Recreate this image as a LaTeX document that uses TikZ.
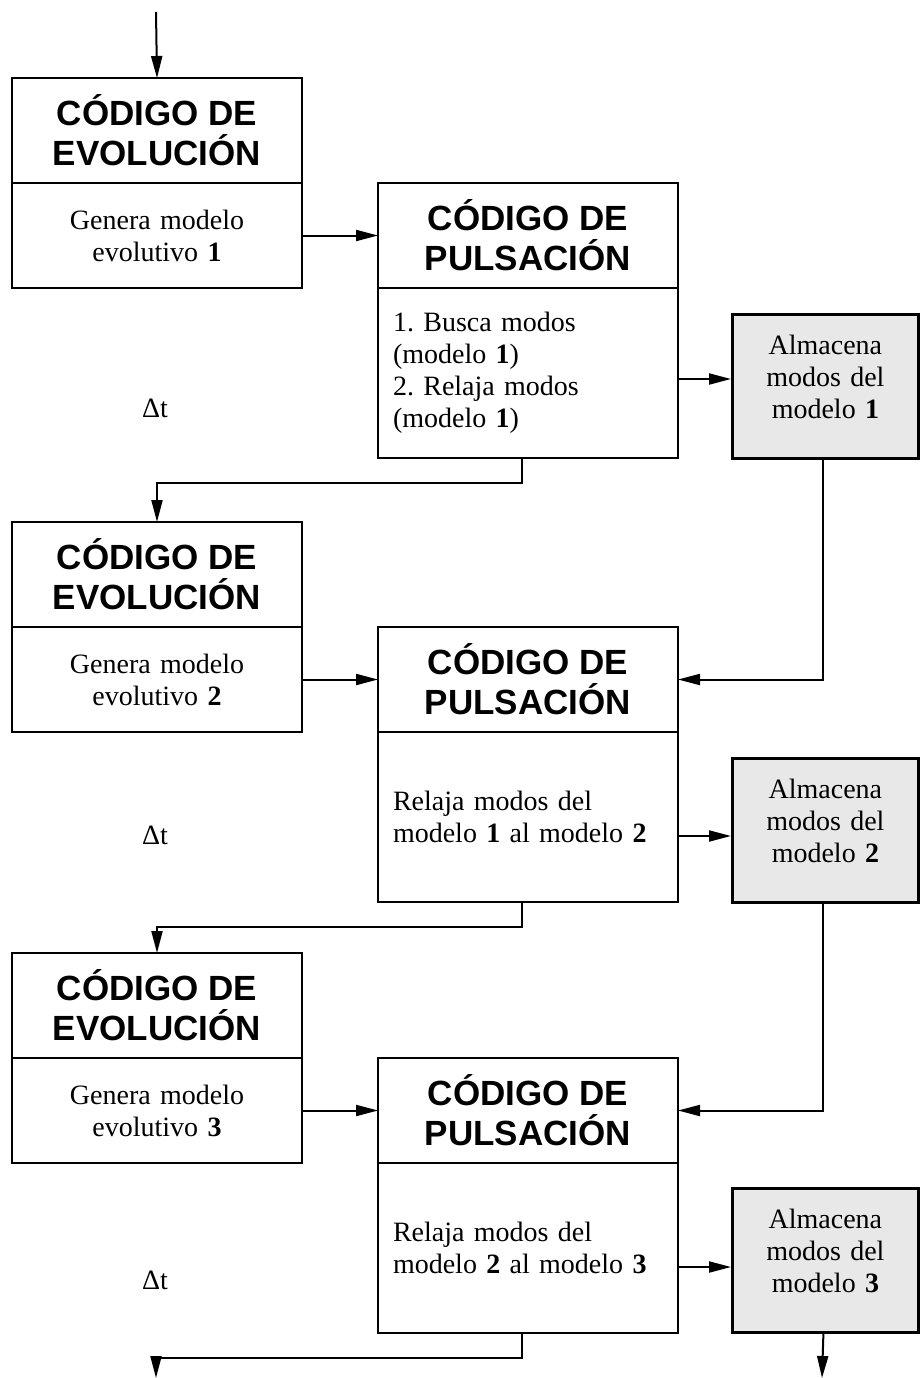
\documentclass[tikz,border=0pt]{standalone}
\usepackage{fontspec}
\setmainfont{Liberation Serif}
\newfontfamily\headfont{Liberation Sans}
\usetikzlibrary{arrows.meta,positioning}

\begin{document}
\begin{tikzpicture}[x=1pt,y=-1pt,>={Triangle[length=22pt,width=11pt]},font=\fontsize{28}{32}\selectfont]

	\tikzstyle{head}=[draw=black,line width=1.3pt,outer sep=0pt,inner sep=4pt,align=center,minimum height=105pt,font=\headfont\bfseries\fontsize{35}{40}\selectfont]
	\tikzstyle{evohead}=[head,minimum width=290pt]
	\tikzstyle{pulhead}=[head,minimum width=300pt]
	\tikzstyle{evobody}=[draw=black,line width=1.3pt,outer sep=0pt,inner sep=10pt,text width=270pt,align=center,minimum height=105pt]
	\tikzstyle{pulbody}=[draw=black,line width=1.3pt,outer sep=0pt,inner xsep=15pt,inner ysep=10pt,text width=270pt,align=left,minimum height=170pt]
	\tikzstyle{store}=[draw=black,line width=2.8pt,fill=black!9,minimum width=186pt,minimum height=144pt]
	\tikzstyle{storetext}=[text width=170pt,align=center]
	\tikzstyle{frame}=[line width=2.8pt]
	\tikzstyle{conn}=[line width=2pt]

	\useasboundingbox (0,0) rectangle (919,1378);

	% bloque 1
	\node [evohead,anchor=north west] (e1h) at (12,78) {CÓDIGO DE\\EVOLUCIÓN};
	\node [evobody,below=0pt of e1h] (e1b) {Genera modelo\\evolutivo \textbf{1}};
	\node [pulhead,anchor=north west] (p1h) at (378,183) {CÓDIGO DE\\PULSACIÓN};
	\node [pulbody,below=0pt of p1h] (p1b) {1.\ Busca modos\\(modelo \textbf{1})\\2.\ Relaja modos\\(modelo \textbf{1})};
	\node [store,anchor=north west] (a1) at (731,313) {};
	\node [storetext] (a1t) at ([yshift=9pt]a1.center) {Almacena\\modos del\\modelo \textbf{1}};
	\node (dt1) at (155,408) {Δt};

	% bloque 2
	\node [evohead,anchor=north west] (e2h) at (12,522) {CÓDIGO DE\\EVOLUCIÓN};
	\node [evobody,below=0pt of e2h] (e2b) {Genera modelo\\evolutivo \textbf{2}};
	\node [pulhead,anchor=north west] (p2h) at (378,627) {CÓDIGO DE\\PULSACIÓN};
	\node [pulbody,below=0pt of p2h] (p2b) {Relaja modos del\\modelo \textbf{1} al modelo \textbf{2}};
	\node [store,anchor=north west] (a2) at (731,757) {};
	\node [storetext] (a2t) at ([yshift=9pt]a2.center) {Almacena\\modos del\\modelo \textbf{2}};
	\node (dt2) at (155,835) {Δt};

	% bloque 3
	\node [evohead,anchor=north west] (e3h) at (12,953) {CÓDIGO DE\\EVOLUCIÓN};
	\node [evobody,below=0pt of e3h] (e3b) {Genera modelo\\evolutivo \textbf{3}};
	\node [pulhead,anchor=north west] (p3h) at (378,1058) {CÓDIGO DE\\PULSACIÓN};
	\node [pulbody,below=0pt of p3h] (p3b) {Relaja modos del\\modelo \textbf{2} al modelo \textbf{3}};
	\node [store,anchor=north west] (a3) at (731,1187) {};
	\node [storetext] (a3t) at ([yshift=9pt]a3.center) {Almacena\\modos del\\modelo \textbf{3}};
	\node (dt3) at (155,1280) {Δt};

	% marcos
	\draw [frame] (e1h.north west) rectangle (e1b.south east);
	\draw [frame] (p1h.north west) rectangle (p1b.south east);
	\draw [frame] (e2h.north west) rectangle (e2b.south east);
	\draw [frame] (p2h.north west) rectangle (p2b.south east);
	\draw [frame] (e3h.north west) rectangle (e3b.south east);
	\draw [frame] (p3h.north west) rectangle (p3b.south east);

	% flechas
	\coordinate (in) at (156,12);
	\coordinate (out1) at (156,1378);
	\coordinate (out2) at (822,1378);

	\draw [conn,->] (in) -- (e1h.north);
	\draw [conn,->] (e1b) -- (p1h);
	\draw [conn,->] (p1b.east |- 0,379) -- (a1.west |- 0,379);
	\draw [conn,->] ([xshift=-6pt]p1b.south) -- ++(0,25) -| (e2h.north);
	\draw [conn,->] ([xshift=-2pt]a1.south) |- (p2h.east);

	\draw [conn,->] (e2b) -- (p2h);
	\draw [conn,->] (p2b.east |- 0,836) -- (a2.west |- 0,836);
	\draw [conn,->] ([xshift=-6pt]p2b.south) -- ++(0,25) -| (e3h.north);
	\draw [conn,->] ([xshift=-2pt]a2.south) |- (p3h.east);

	\draw [conn,->] (e3b) -- (p3h);
	\draw [conn,->] (p3b.east |- 0,1267) -- (a3.west |- 0,1267);
	\draw [conn,->] ([xshift=-6pt]p3b.south) -- ++(0,25) -| (out1);
	\draw [conn,->] ([xshift=-2pt]a3.south) -- (out2);

\end{tikzpicture}
\end{document}
